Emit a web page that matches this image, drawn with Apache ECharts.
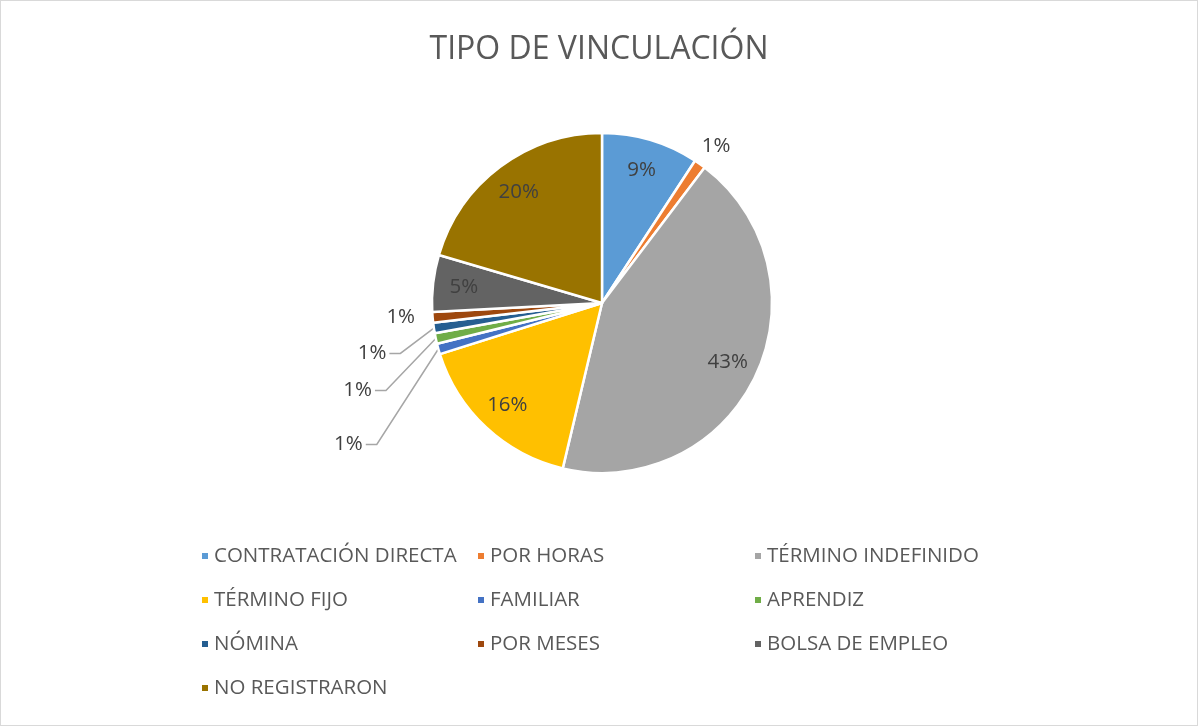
<!DOCTYPE html>
<html>
<head>
<meta charset="utf-8">
<script src="https://cdn.jsdelivr.net/npm/echarts@6/dist/echarts.min.js"></script>
<style>
  html, body { margin: 0; padding: 0; background: #fff; }
  #chart { width: 1198px; height: 726px; box-sizing: border-box; border: 1px solid #d9d9d9; }
</style>
</head>
<body>
<div id="chart"></div>
<script>
const titleText = 'TIPO DE VINCULACIÓN'
const categories = [
  'CONTRATACIÓN DIRECTA',
  'POR HORAS',
  'TÉRMINO INDEFINIDO',
  'TÉRMINO FIJO',
  'FAMILIAR',
  'APRENDIZ',
  'NÓMINA',
  'POR MESES',
  'BOLSA DE EMPLEO',
  'NO REGISTRARON'
]
// share of each group (percent)
const shares = [9.2, 1.1, 43.3, 16.4, 1.0, 1.0, 1.0, 1.0, 5.4, 20.4]
const colors = [
  '#5B9BD5', '#ED7D31', '#A5A5A5', '#FFC000', '#4472C4',
  '#70AD47', '#255E91', '#9E480E', '#636363', '#997300'
]

// label placement tweaks for the thin slices (style only)
const leaderLine = [false, false, false, false, true, true, true, false, false, false]
const labelNudge = {
  1: [-20, -8],
  4: [-49, 57],
  5: [-39, 26],
  6: [-24, 12],
  7: [5, -1]
}

const total = shares.reduce((a, b) => a + b, 0)
const pct = v => Math.round(v / total * 100) + '%'
const fontFamily = 'Open Sans'
const textColor = '#404040'

const chart = echarts.init(document.getElementById('chart'), null, { renderer: 'canvas' })

// small slices get outside labels, big ones get labels from the overlay ring
const isSmall = v => v / total < 0.03

const pieData = categories.map((name, i) => ({
  name: name,
  value: shares[i],
  itemStyle: { color: colors[i] },
  label: { show: isSmall(shares[i]) },
  labelLine: { show: isSmall(shares[i]) && leaderLine[i] }
}))

const overlayData = categories.map((name, i) => ({
  name: name,
  value: shares[i],
  label: { show: !isSmall(shares[i]) }
}))

// legend: three columns, items filled row by row
const legends = [0, 1, 2].map(col => ({
  orient: 'vertical',
  left: [199, 475, 752][col],
  top: 544,
  padding: 0,
  itemWidth: 8,
  itemHeight: 8,
  itemGap: 22,
  icon: 'rect',
  selectedMode: false,
  data: categories.filter((_, i) => i % 3 === col),
  textStyle: { fontFamily: fontFamily, fontSize: 20.5, color: '#595959', lineHeight: 22 }
}))

function nudgeLabel(p) {
  const n = labelNudge[p.dataIndex]
  if (!n) return {}
  const out = { dx: n[0], dy: n[1] }
  if (leaderLine[p.dataIndex] && p.labelLinePoints) {
    const r = p.labelRect
    const end = [r.x + n[0] + r.width + 3, r.y + n[1] + r.height / 2]
    const bend = [end[0] + 11, end[1]]
    out.labelLinePoints = [p.labelLinePoints[0], bend, end]
  }
  return out
}

const option = {
  color: colors,
  animation: false,
  title: {
    text: titleText,
    left: 'center',
    top: 28,
    textStyle: { fontFamily: fontFamily, fontSize: 32, fontWeight: 'normal', color: '#595959' }
  },
  legend: legends,
  series: [
    {
      type: 'pie',
      center: [601, 302],
      radius: [0, 170],
      startAngle: 90,
      clockwise: true,
      itemStyle: { borderColor: '#fff', borderWidth: 2.5 },
      label: {
        position: 'outside',
        formatter: p => pct(p.value),
        fontFamily: fontFamily,
        fontSize: 20.5,
        color: textColor
      },
      labelLine: {
        length: 12,
        length2: 10,
        lineStyle: { color: '#a6a6a6', width: 1.5 }
      },
      labelLayout: nudgeLabel,
      emphasis: { disabled: true },
      data: pieData
    },
    {
      type: 'pie',
      center: [601, 302],
      radius: [95, 177],
      startAngle: 90,
      clockwise: true,
      silent: true,
      legendHoverLink: false,
      itemStyle: { color: 'rgba(0,0,0,0)' },
      label: {
        position: 'inside',
        formatter: p => pct(p.value),
        fontFamily: fontFamily,
        fontSize: 20.5,
        color: textColor
      },
      labelLine: { show: false },
      emphasis: { disabled: true },
      data: overlayData
    }
  ]
}

chart.setOption(option)
window.addEventListener('resize', chart.resize)
</script>
</body>
</html>
